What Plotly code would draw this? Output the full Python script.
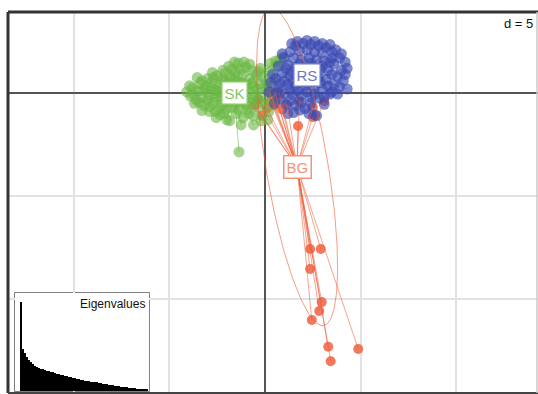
import numpy as np
import plotly.graph_objects as go

# Discriminant-function scores (axis 1, axis 2) per population
sk_x = [-4.1, -3.9, -3.8, -3.6, -3.5, -3.4, -3.3, -3.2, -3.1, -3.0, -2.9, -2.9, -2.8, -2.7,
        -2.6, -2.55, -2.5, -2.4, -2.35, -2.3, -2.2, -2.15, -2.1, -2.0, -2.0, -1.9, -1.85,
        -1.8, -1.75, -1.7, -1.6, -1.55, -1.5, -1.45, -1.4, -1.35, -1.3, -1.2, -1.15, -1.1,
        -1.05, -1.0, -0.95, -0.9, -0.8, -0.75, -0.7, -0.6, -0.55, -0.5, -0.45, -0.35, -0.3,
        -0.2, -0.15, -0.1, 0.0, 0.1, 0.2, 0.25, 0.35, 0.45, 0.5, 0.6, 0.75, 0.9, 0.55, 0.3,
        -2.6, -3.3, -1.25, -0.6, -2.0, -1.6, -0.25, 0.15, -3.7, -2.75,
        -3.95, -3.75, -3.45, -3.2, -3.0, -2.85, -2.7, -2.6, -2.45, -2.3, -2.25, -2.1, -2.05,
        -1.95, -1.9, -1.65, -1.6, -1.5, -1.4, -1.3, -1.25, -1.0, -0.95, -0.85, -0.7, -0.65,
        -0.4, -0.35, -0.25, 0.05, -3.55, -2.35, -1.75, -1.1, -0.8, -2.9, -3.3,
        -1.36]
sk_y = [0.05, -0.15, 0.25, -0.35, 0.1, 0.45, -0.2, -0.6, 0.3, 0.7, -0.1, -0.9, 0.5, -0.45,
        0.15, -1.2, 0.85, -0.7, 0.4, -0.2, 1.1, -1.0, 0.6, -0.4, 0.2, 1.3, -1.35,
        0.8, -0.7, 0.3, -0.1, 1.0, -1.0, 0.55, 1.45, -0.45, 0.15, 0.9, -1.2, -0.25,
        0.45, 1.25, -0.8, 0.1, 0.7, -0.5, 1.1, -1.1, 0.3, -0.15, 0.9, -0.7, 0.45,
        -1.35, 0.05, 0.75, -0.4, 0.3, -0.9, 1.0, 0.0, 0.6, -0.5, 1.35, 1.6, 1.75, 1.55, 1.45,
        -0.9, 0.6, -1.55, -1.55, -1.3, 1.5, 1.2, -1.3, -0.5, 1.0,
        0.35, -0.05, -0.45, 0.15, -0.35, 0.25, 0.75, -0.2, 0.1, 0.65, -0.55, 0.95, -0.8,
        0.45, -0.15, 0.65, -0.5, 0.2, -0.8, 1.15, 0.5, -0.55, 0.3, -1.0, 0.45, -0.25,
        0.15, 1.05, -0.45, 0.5, 0.75, -1.05, 1.15, 1.5, 1.4, -0.65, -0.85,
        -2.86]

rs_x = [1.6, 2.0, 2.4, 2.8, 3.2, 1.3, 1.8, 2.2, 2.6, 3.0, 3.5, 3.9, 4.2, 1.0, 1.5, 1.9, 2.3,
        2.7, 3.1, 3.6, 4.0, 0.7, 1.2, 1.6, 2.0, 2.5, 2.9, 3.3, 3.8, 0.4, 0.9, 1.3, 1.75, 2.8,
        3.2, 3.6, 0.3, 0.8, 1.2, 1.6, 2.1, 2.6, 3.0, 3.4, 0.2, 0.6, 1.0, 1.45, 1.9, 2.4, 2.85,
        3.8, 4.3, 0.5, 1.1, 1.6, 2.1, 2.6, 3.1, 1.2, 1.83, 2.7, 0.9, 2.2, 3.5, 4.1, 3.5,
        1.4, 1.7, 2.2, 2.6, 3.0, 3.4, 3.7, 4.0, 4.3, 4.2, 3.9, 1.1, 1.4, 1.8, 2.4, 3.0, 3.4,
        3.5, 1.0, 1.5, 2.4, 2.9, 3.3, 0.7, 1.3, 1.7, 2.2, 2.6, 3.1, 0.8, 1.35, 1.9, 2.4,
        1.5, 2.3, 0.55]
rs_y = [2.3, 2.4, 2.35, 2.3, 2.2, 2.0, 2.05, 2.1, 2.0, 1.95, 2.0, 1.7, 1.5, 1.7, 1.7, 1.6, 1.7,
        1.6, 1.55, 1.4, 1.1, 1.3, 1.35, 1.25, 1.2, 1.25, 1.15, 1.1, 0.8, 0.9, 0.95, 0.85, 0.8,
        0.75, 0.65, 0.4, 0.5, 0.45, 0.4, 0.35, 0.35, 0.3, 0.2, -0.05, 0.05, 0.0, -0.05, -0.1,
        -0.1, -0.2, -0.25, -0.05, 0.2, -0.5, -0.55, -0.6, -0.75, -1.07, -0.55, -1.0, -0.83,
        -1.1, 1.9, 0.8, 1.7, 0.6, 0.05,
        2.4, 2.5, 2.55, 2.5, 2.4, 2.35, 2.1, 1.9, 1.2, 0.9, 0.3, 1.2, 1.0, 1.4, 1.45, 1.3, 1.5,
        0.9, 0.6, 0.55, 0.55, 0.5, 0.35, 0.2, 0.15, 0.1, 0.05, -0.05, -0.2, -0.3, -0.35, -0.45,
        -0.5, -0.95, -1.0, 0.7]

bg_x = [0.2, 0.35, 0.5, 0.3, 0.6, 0.45, -0.35, -0.55, 0.1, 1.15, 1.73, 2.5, 3.1, 0.75,
        -0.15, 1.8, 2.5, 0.9,
        2.36, 2.92, 2.36, 2.97, 2.84, 2.45, 3.31, 3.44, 4.88]
bg_y = [0.1, -0.15, 0.05, -0.4, -0.3, -0.6, -0.3, -0.6, -0.75, -0.58, -1.6, -0.68, -0.4, 0.0,
        -1.1, -0.4, -1.17, -0.8,
        -7.57, -7.57, -8.54, -10.15, -10.58, -11.02, -12.32, -13.02, -12.43]

# Group centroids and ellipse half-axes (data units)
groups = ["SK", "RS", "BG"]
centers = {"SK": (-1.60, -0.01), "RS": (2.18, 0.87), "BG": (1.68, -3.59)}
ellipse_major = {"BG": (1.40, -7.70)}
ellipse_minor = {"BG": 1.62}

# Eigenvalues of the retained discriminant analysis
eigenvalues = [89, 42, 38, 34, 31, 29, 27, 25, 24, 23, 22, 21.5, 21, 20, 19.5, 19, 18.5, 18,
               17, 16.5, 16, 15.5, 15, 14.5, 14, 13.6, 13.2, 12.8, 12.3, 11.8, 11.3, 10.8,
               10.4, 10, 9.7, 9.4, 9.1, 8.8, 8.5, 8.1, 7.8, 7.4, 7.0, 6.7, 6.4, 6.0, 5.7, 5.3,
               5.0, 4.7, 4.4, 4.1, 3.8, 3.5, 3.2, 3.0, 2.8, 2.6, 2.4, 2.2, 2.0, 1.8, 1.6, 1.4]

grid_step = 5

pt_color = {"SK": "rgba(106,184,68,0.6)", "RS": "rgba(58,74,178,0.65)", "BG": "rgba(240,98,64,0.85)"}
line_color = {"SK": "rgba(106,184,68,0.55)", "RS": "rgba(58,74,178,0.3)", "BG": "rgba(240,90,55,0.55)"}
label_color = {"SK": "#86c862", "RS": "#6c78c2", "BG": "#f29478"}
data = {"SK": (sk_x, sk_y), "RS": (rs_x, rs_y), "BG": (bg_x, bg_y)}


def star_segments(g):
    cx, cy = centers[g]
    xs, ys = [], []
    for x, y in zip(*data[g]):
        xs += [cx, x, None]
        ys += [cy, y, None]
    return xs, ys


def ellipse(g):
    cx, cy = centers[g]
    ax, ay = ellipse_major[g]
    n = np.hypot(ax, ay)
    bx, by = -ay / n * ellipse_minor[g], ax / n * ellipse_minor[g]
    t = np.linspace(0, 2 * np.pi, 200)
    return cx + ax * np.cos(t) + bx * np.sin(t), cy + ay * np.cos(t) + by * np.sin(t)


fig = go.Figure()

# BG individuals sit underneath the other clusters
fig.add_trace(go.Scatter(x=bg_x, y=bg_y, mode="markers",
                         marker=dict(size=10, color=pt_color["BG"], line=dict(width=0)),
                         showlegend=False, hoverinfo="skip"))
for g in ["SK", "RS"]:
    sx, sy = star_segments(g)
    fig.add_trace(go.Scatter(x=sx, y=sy, mode="lines",
                             line=dict(color=line_color[g], width=1),
                             showlegend=False, hoverinfo="skip"))
    fig.add_trace(go.Scatter(x=data[g][0], y=data[g][1], mode="markers",
                             marker=dict(size=11, color=pt_color[g], line=dict(width=0)),
                             showlegend=False, hoverinfo="skip"))

sx, sy = star_segments("BG")
fig.add_trace(go.Scatter(x=sx, y=sy, mode="lines",
                         line=dict(color=line_color["BG"], width=1),
                         showlegend=False, hoverinfo="skip"))
ex, ey = ellipse("BG")
fig.add_trace(go.Scatter(x=ex, y=ey, mode="lines",
                         line=dict(color="rgba(240,90,55,0.6)", width=1),
                         showlegend=False, hoverinfo="skip"))

# Eigenvalue inset
fig.add_trace(go.Bar(x=list(range(1, len(eigenvalues) + 1)), y=eigenvalues,
                     marker=dict(color="black", line=dict(width=0)),
                     xaxis="x2", yaxis="y2", showlegend=False, hoverinfo="skip"))

for g in groups:
    cx, cy = centers[g]
    fig.add_annotation(x=cx, y=cy, text=g, showarrow=False,
                       font=dict(family="Liberation Sans, Arial", size=15, color=label_color[g]),
                       bgcolor="white", bordercolor=label_color[g], borderwidth=1.5, borderpad=2)

fig.add_annotation(x=0.995, y=3.35, xref="paper", text="d = %d" % grid_step, showarrow=False,
                   xanchor="right", font=dict(family="Liberation Sans, Arial", size=13, color="#111"))

inset_x = [0.0132, 0.266]
inset_y = [0.0053, 0.2625]
fig.add_annotation(x=inset_x[1] - 0.004, y=inset_y[1] - 0.004, xref="paper", yref="paper",
                   text="Eigenvalues", showarrow=False, xanchor="right", yanchor="top",
                   font=dict(family="Liberation Sans, Arial", size=12, color="#111"))

fig.add_shape(type="rect", xref="paper", yref="paper", x0=inset_x[0], x1=inset_x[1],
              y0=inset_y[0], y1=inset_y[1], fillcolor="white",
              line=dict(color="#555", width=1.5), layer="between")

# Frame
fig.add_shape(type="line", xref="paper", yref="paper", x0=0, x1=0, y0=0, y1=1,
              line=dict(color="#333", width=3))
fig.add_shape(type="line", xref="paper", yref="paper", x0=0, x1=1, y0=1, y1=1,
              line=dict(color="#333", width=3))
fig.add_shape(type="line", xref="paper", yref="paper", x0=0, x1=1, y0=0, y1=0,
              line=dict(color="#444", width=2))
fig.add_shape(type="line", xref="paper", yref="paper", x0=0.998, x1=0.998, y0=0, y1=1,
              line=dict(color="#ccc", width=1.5))

axis_common = dict(showticklabels=False, ticks="", showline=False,
                   gridcolor="#e2e2e2", gridwidth=1.5, dtick=grid_step, tick0=0,
                   zeroline=True, zerolinecolor="#555", zerolinewidth=2)

fig.update_layout(
    width=538, height=394,
    margin=dict(l=8, r=0, t=12, b=1),
    paper_bgcolor="white", plot_bgcolor="white",
    xaxis=dict(range=[-13.455, 14.293], **axis_common),
    yaxis=dict(range=[-14.563, 3.932], **axis_common),
    xaxis2=dict(domain=inset_x, anchor="y2", range=[-2, 65], showgrid=False,
                zeroline=False, showticklabels=False, ticks=""),
    yaxis2=dict(domain=inset_y, anchor="x2", range=[0, 98], showgrid=False,
                zeroline=False, showticklabels=False, ticks=""),
    bargap=0,
)

fig.write_html("out.html")
